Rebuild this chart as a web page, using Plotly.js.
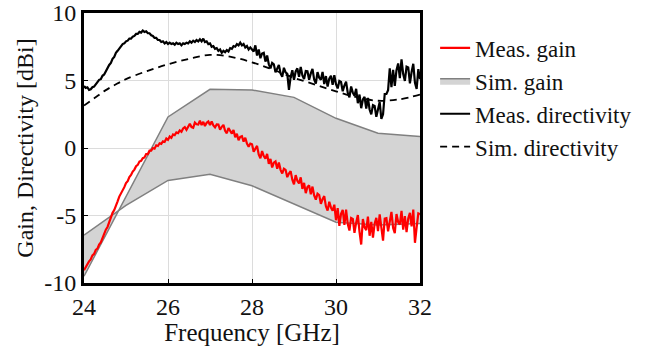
<!DOCTYPE html>
<html>
<head>
<meta charset="utf-8">
<script src="https://cdn.plot.ly/plotly-3.0.1.min.js"></script>
<style>
html,body{margin:0;padding:0;background:#fff;}
#chart{width:662px;height:346px;}
</style>
</head>
<body>
<div id="chart"></div>
<script>
// Measured sweep: start frequency and step (GHz), used through Plotly's x0/dx
const measStart = 24.0;
const measStep = 0.04;

const measDirectivity = [
4.6,4.45,4.5,4.3,4.35,4.5,4.55,4.75,4.85,5.05,5.1,5.35,5.45,5.7,5.85,6.15,6.3,6.6,6.75,7.05,
7.2,7.4,7.5,7.7,7.75,7.9,7.95,8.1,8.1,8.25,8.3,8.45,8.45,8.6,8.55,8.7,8.6,8.65,8.5,8.5,
8.35,8.3,8.15,8.15,8.0,8.0,7.85,7.9,7.75,7.85,7.7,7.8,7.7,7.75,7.65,7.8,7.7,7.75,7.6,7.75,
7.7,7.8,7.75,7.9,7.8,7.95,7.85,8.0,7.9,8.05,7.9,8.1,7.85,7.9,7.7,7.75,7.5,7.55,7.35,7.4,
7.2,7.3,7.05,7.2,7.1,7.25,7.15,7.4,7.35,7.55,7.5,7.7,7.6,7.8,7.6,7.7,7.45,7.55,7.3,7.45,
7.3,7.15,7.6,6.85,7.3,6.65,7.0,7.05,6.4,6.85,6.2,5.9,6.3,6.2,5.6,5.9,6.16,5.52,5.28,5.94,
5.6,5.49,4.3,5.27,5.76,5.05,5.67,5.9,5.27,6.01,5.38,5.1,5.71,5.69,5.05,5.53,5.86,5.07,4.78,5.62,
5.2,5.05,5.64,4.74,5.33,4.55,5.14,5.35,4.68,5.39,4.73,4.41,4.96,4.89,4.2,4.63,4.92,4.09,3.76,4.56,
4.1,3.87,4.38,3.32,3.96,2.95,3.59,3.78,2.92,3.71,2.85,2.49,3.18,3.12,2.31,2.85,3.4,2.15,2.5,4.0,
4.0,4.28,5.9,4.5,5.78,4.6,5.77,6.26,5.17,6.56,5.48,4.97,6.03,5.97,4.79,5.63,6.24,4.83,4.38,5.84,
5.1
];

const measGain = [
-9.05,-8.8,-8.65,-8.4,-8.25,-7.95,-7.85,-7.55,-7.45,-7.15,-7.0,-6.65,-6.45,-6.05,-5.85,-5.45,-5.2,-4.8,-4.6,-4.2,
-3.95,-3.6,-3.4,-3.1,-2.9,-2.6,-2.45,-2.15,-2.0,-1.75,-1.6,-1.35,-1.25,-1.0,-0.95,-0.75,-0.7,-0.45,-0.45,-0.2,
-0.2,0.0,-0.05,0.2,0.15,0.35,0.3,0.5,0.45,0.7,0.6,0.85,0.75,1.0,0.95,1.15,1.1,1.3,1.2,1.45,
1.55,1.35,1.6,1.8,1.55,1.5,1.88,1.76,1.74,2.02,1.7,1.94,1.63,1.87,1.96,1.7,1.96,1.67,1.53,1.74,
1.73,1.35,1.57,1.71,1.27,1.09,1.48,1.21,1.07,1.33,0.8,1.05,0.58,0.83,0.88,0.47,0.76,0.33,0.1,0.33,
0.28,-0.27,-0.01,0.16,-0.48,-0.76,-0.23,-0.6,-0.79,-0.44,-1.17,-0.81,-1.44,-1.08,-0.99,-1.53,-1.08,-1.62,-1.89,-1.53,
-1.62,-2.16,-1.89,-1.71,-2.34,-2.69,-2.01,-2.43,-2.63,-2.17,-3.03,-2.58,-3.34,-2.89,-2.77,-3.42,-2.86,-3.51,-3.83,-3.38,
-3.48,-4.13,-3.79,-3.56,-4.32,-4.64,-3.98,-4.42,-4.64,-4.2,-5.35,-4.46,-5.77,-4.88,-4.59,-5.7,-4.57,-5.64,-6.11,-5.18,
-5.25,-6.29,-5.53,-4.97,-6.21,-7.15,-5.26,-5.87,-6.08,-5.09,-6.5,-5.47,-6.64,-5.61,-5.18,-6.15,-4.92,-5.89,-6.86,-5.23,
-5.2,-6.18,-5.36,-4.74,-5.92,-6.3,-4.89,-5.48,-5.67,-4.66,-6.05,-5.04,-6.23,-5.22,-4.81,-5.8,-4.56,-7.02,-5.88,-4.84,
-4.9
];

// Simulated directivity
const simDirFreq = [24,24.25,24.5,24.75,25,25.5,26,26.5,27,27.5,28,28.5,29,29.5,30,30.5,31,31.5,32];
const simDirectivity = [3.15,3.7,4.25,4.7,5.1,5.7,6.2,6.6,6.9,6.75,6.35,5.8,5.2,4.7,4.2,3.75,3.5,3.6,3.95];

// Simulated gain band (two bounding curves)
const simGainFreq = [24,25,26,27,28,29,30,31,32];
const simGainA = [-6.45,-4.25,-2.4,-1.95,-2.8,-4.15,-5.5,-5.7,-5.6];
const simGainB = [-9.5,-3.6,2.3,4.35,4.3,3.75,2.2,1.1,0.85];

const FONT = '"Liberation Serif", "Times New Roman", serif';

const traces = [
  {x: simGainFreq, y: simGainA, type: 'scatter', mode: 'lines',
   line: {color: '#808080', width: 1.5}, showlegend: false, hoverinfo: 'skip', legendgroup: 'g2'},
  {x: simGainFreq, y: simGainB, type: 'scatter', mode: 'lines', name: 'Sim. gain',
   fill: 'tonexty', fillcolor: '#d4d4d4',
   line: {color: '#808080', width: 1.5}, legendrank: 2, legendgroup: 'g2'},
  {x: simDirFreq, y: simDirectivity, type: 'scatter', mode: 'lines', name: 'Sim. directivity',
   line: {color: '#000', width: 1.8, dash: '7px,5px', shape: 'spline'}, legendrank: 4, legendgroup: 'g4'},
  {x0: measStart, dx: measStep, y: measDirectivity, type: 'scatter', mode: 'lines', name: 'Meas. directivity',
   line: {color: '#000', width: 2.2}, legendrank: 3, legendgroup: 'g3'},
  {x0: measStart, dx: measStep, y: measGain, type: 'scatter', mode: 'lines', name: 'Meas. gain',
   line: {color: '#ff0000', width: 2.2}, legendrank: 1, legendgroup: 'g1'}
];

const layout = {
  width: 662, height: 346,
  margin: {l: 84, r: 242, t: 13, b: 63},
  paper_bgcolor: '#fff', plot_bgcolor: '#fff',
  font: {family: FONT, size: 23, color: '#111'},
  xaxis: {
    range: [24, 32], tickvals: [24, 26, 28, 30, 32], ticktext: ['24','26','28','30','32'],
    showgrid: true, gridcolor: '#dcdcdc', gridwidth: 1,
    showline: true, mirror: true, linecolor: '#000', linewidth: 3,
    ticks: 'inside', ticklen: 4, tickcolor: '#000', zeroline: false,
    tickfont: {family: FONT, size: 24, color: '#111'},
    title: {text: 'Frequency [GHz]', font: {family: FONT, size: 25, color: '#111'}, standoff: 2}
  },
  yaxis: {
    range: [-10, 10], tickvals: [-10, -5, 0, 5, 10], ticktext: ['-10','-5','0','5','10'],
    showgrid: true, gridcolor: '#dcdcdc', gridwidth: 1,
    showline: true, mirror: true, linecolor: '#000', linewidth: 3,
    ticks: 'inside', ticklen: 4, tickcolor: '#000', zeroline: false,
    tickfont: {family: FONT, size: 24, color: '#111'},
    title: {text: 'Gain, Directivity [dBi]', font: {family: FONT, size: 24, color: '#111'}, standoff: 4}
  },
  legend: {
    x: 1.045, xanchor: 'left', y: 0.95, yanchor: 'top',
    font: {family: FONT, size: 23, color: '#111'},
    bgcolor: 'rgba(0,0,0,0)', borderwidth: 0,
    itemwidth: 30, tracegroupgap: 6, traceorder: 'normal'
  },
  showlegend: true
};

Plotly.newPlot('chart', traces, layout, {displayModeBar: false, staticPlot: true});
</script>
</body>
</html>
